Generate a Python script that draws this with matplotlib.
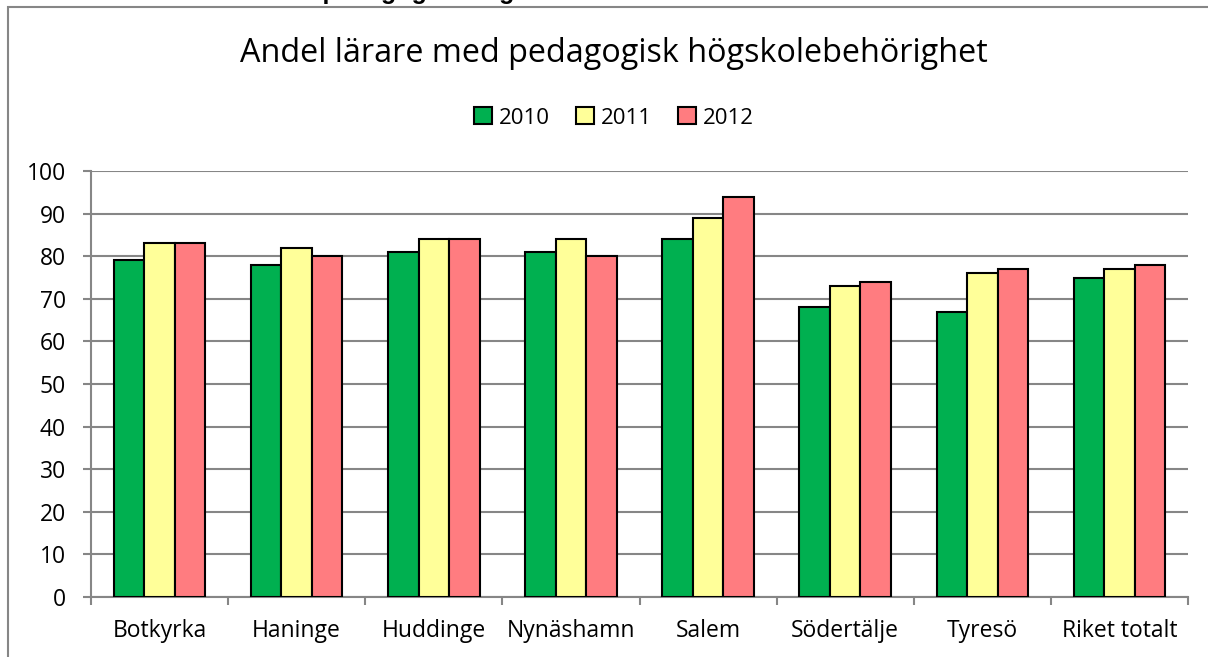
import matplotlib
matplotlib.use("Agg")
import matplotlib.pyplot as plt
import numpy as np
from matplotlib.patches import Rectangle

# Data
categories = ["Botkyrka", "Haninge", "Huddinge", "Nynäshamn", "Salem",
              "Södertälje", "Tyresö", "Riket totalt"]
years = ["2010", "2011", "2012"]
values_2010 = [79, 78, 81, 81, 84, 68, 67, 75]
values_2011 = [83, 82, 84, 84, 89, 73, 76, 77]
values_2012 = [83, 80, 84, 80, 94, 74, 77, 78]
y_ticks = [0, 10, 20, 30, 40, 50, 60, 70, 80, 90, 100]

colors = ["#00B050", "#FFFF99", "#FF7C80"]
grid_color = "#868686"

plt.rcParams["font.family"] = ["Open Sans", "DejaVu Sans"]

fig = plt.figure(figsize=(12.08, 6.57), dpi=100)
ax = fig.add_axes([91 / 1208, 1 - 597 / 657, (1188 - 91) / 1208, (597 - 171) / 657])

x = np.arange(len(categories))
bar_w = 0.667 / 3
series = [values_2010, values_2011, values_2012]
for i, (vals, col, yr) in enumerate(zip(series, colors, years)):
    ax.bar(x + (i - 1) * bar_w, vals, width=bar_w, color=col,
           edgecolor="black", linewidth=1.5, label=yr, zorder=3)

ax.set_xlim(-0.5, len(categories) - 0.5)
ax.set_ylim(0, 100)
ax.set_yticks(y_ticks)
ax.yaxis.grid(True, color=grid_color, linewidth=1.5, zorder=0)
ax.set_axisbelow(True)

# category ticks sit on the boundaries, labels in the middle
ax.set_xticks(np.arange(len(categories) + 1) - 0.5)
ax.set_xticklabels([])
ax.set_xticks(x, minor=True)
ax.set_xticklabels(categories, minor=True, fontsize=16.5)
ax.tick_params(axis="x", which="major", length=6, width=1.5, color=grid_color)
ax.tick_params(axis="x", which="minor", length=0, pad=16)
ax.tick_params(axis="y", length=6, width=1.5, color=grid_color, labelsize=16.5, pad=12)

for side in ["top", "right"]:
    ax.spines[side].set_visible(False)
for side in ["left", "bottom"]:
    ax.spines[side].set_color(grid_color)
    ax.spines[side].set_linewidth(1.5)

fig.text(614 / 1208, 1 - 53 / 657, "Andel lärare med pedagogisk högskolebehörighet",
         ha="center", va="center", fontsize=23.3)

leg = fig.legend(loc="center", bbox_to_anchor=(614 / 1208, 1 - 118 / 657), ncol=3,
                 frameon=False, fontsize=16, handlelength=0.8, handleheight=0.8,
                 handletextpad=0.3, columnspacing=1.2)

# outer chart frame, partly cut off by the image edge
fig.add_artist(Rectangle((8 / 1208, -0.05), 1.2, 1 - 7 / 657 + 0.05,
                         transform=fig.transFigure, fill=False,
                         edgecolor=grid_color, linewidth=1.5))

# caption above the chart, mostly cut off at the top of the image
fig.text(8 / 1208, 1 + 1 / 657, "Tabell 4. Andel lärare med pedagogisk högskoleexamen",
         ha="left", va="baseline", fontsize=18, fontweight="bold",
         family=["Liberation Sans", "DejaVu Sans"])

fig.savefig("out.png", dpi=100)
